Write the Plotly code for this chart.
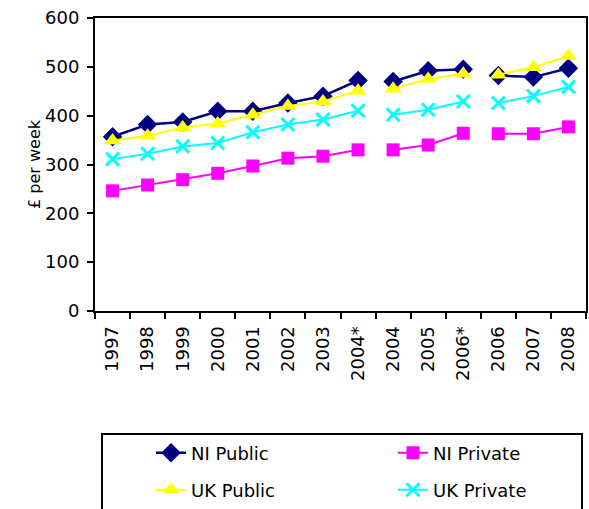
import plotly.graph_objects as go

# ---- data ----
years = ["1997", "1998", "1999", "2000", "2001", "2002", "2003", "2004*",
         "2004", "2005", "2006*", "2006", "2007", "2008"]
ni_public = [357, 382, 387, 409, 409, 426, 440, 472, 470, 492, 495, 482, 479, 497]
ni_private = [246, 258, 269, 282, 297, 313, 317, 330, 330, 340, 364, 363, 363, 377]
uk_public = [349, 359, 376, 384, 402, 420, 429, 451, 455, 475, 486, 484, 499, 522]
uk_private = [311, 322, 337, 344, 366, 382, 392, 410, 402, 412, 429, 426, 440, 459]
segments = [(0, 8), (8, 11), (11, 14)]  # series breaks (2004*, 2006* discontinuities)
y_ticks = [0, 100, 200, 300, 400, 500, 600]

W, H = 589, 509
# desired plot area in pixels
VX0, VX1, VY0, VY1 = 95, 586, 18, 311
L, T = VX0, VY0
R, B = W - VX1, H - VY1
PW, PH = VX1 - VX0, VY1 - VY0


def px_x(x):  # px -> paper
    return (x - VX0) / PW


def px_y(y):
    return (VY1 - y) / PH


def cx(x):  # px -> container
    return x / W


def cy(y):
    return 1 - y / H


FONT = "DejaVu Sans, Verdana, sans-serif"

series = [
    ("NI Public", ni_public, "#000080", "diamond", 15, 2.5, "legend"),
    ("NI Private", ni_private, "#FF00FF", "square", 13, 2, "legend"),
    ("UK Public", uk_public, "#FFFF00", "triangle-up", 15, 2, "legend2"),
    ("UK Private", uk_private, "#00FFFF", "x-thin", 13, 2, "legend2"),
]

fig = go.Figure()
for name, vals, color, sym, size, lw, lg in series:
    for k, (a, b) in enumerate(segments):
        marker = dict(symbol=sym, size=size, color=color)
        if sym == "x-thin":
            marker["line"] = dict(color=color, width=3)
        fig.add_trace(go.Scatter(
            x=years[a:b], y=vals[a:b], mode="lines+markers", name=name,
            legendgroup=name, showlegend=(k == 0), legend=lg,
            line=dict(color=color, width=lw), marker=marker,
        ))

leg_common = dict(
    orientation="h", xref="container", yref="container",
    xanchor="left", yanchor="middle", entrywidth=197,
    font=dict(size=18), bgcolor="rgba(0,0,0,0)",
)

fig.update_layout(
    width=W, height=H,
    margin=dict(l=L, r=R, t=T, b=B, autoexpand=False),
    paper_bgcolor="white", plot_bgcolor="white",
    font=dict(family=FONT, size=18, color="black"),
    showlegend=True,
    legend=dict(leg_common, x=cx(151), y=cy(453)),
    legend2=dict(leg_common, x=cx(151), y=cy(490)),
    xaxis=dict(
        type="category", categoryorder="array", categoryarray=years,
        range=[-0.5, len(years) - 0.5], automargin=False,
        showgrid=False, showline=True, linecolor="black", linewidth=2, mirror=True,
        ticks="outside", ticklen=6, tickwidth=2, tickcolor="black",
        tickson="boundaries", tickangle=-90, tickfont=dict(size=18),
        ticklabelstandoff=6, ticklabeloverflow="allow",
    ),
    yaxis=dict(
        range=[0, 600], tickvals=y_ticks, showgrid=False, zeroline=False,
        automargin=False,
        showline=True, linecolor="black", linewidth=2, mirror=True,
        ticks="outside", ticklen=6, tickwidth=2, tickcolor="black",
        tickfont=dict(size=18), ticklabelstandoff=4, ticklabeloverflow="allow",
        title=dict(text="£ per week", font=dict(size=16), standoff=0),
    ),
    shapes=[dict(type="rect", xref="paper", yref="paper",
                 x0=px_x(102), x1=px_x(582), y0=px_y(434), y1=px_y(520),
                 line=dict(color="black", width=2), fillcolor="rgba(0,0,0,0)")],
)

fig.write_html(
    "out.html",
    config={"displayModeBar": False},
    post_script="document.body.style.margin='0';document.body.style.overflow='hidden';",
)
